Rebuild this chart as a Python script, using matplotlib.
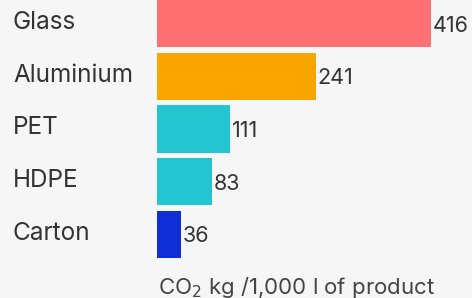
import matplotlib
matplotlib.use("Agg")
import matplotlib.pyplot as plt

categories = ["Glass", "Aluminium", "PET", "HDPE", "Carton"]
values = [416, 241, 111, 83, 36]
colors = ["#ff7072", "#f9a500", "#22c5d0", "#22c5d0", "#0f2ed8"]
xlabel = "CO$_2$ kg /1,000 l of product"

W, H = 472, 298
fig = plt.figure(figsize=(W/100, H/100), dpi=100, facecolor="#f6f6f6")
ax = fig.add_axes([157/W, (H-258)/H, 274/W, 258/H])
ax.set_facecolor("#f6f6f6")
ypos = list(range(len(categories)))
ax.barh(ypos, values, height=0.9, color=colors)
ax.set_xlim(0, max(values))
ax.set_ylim(len(categories)-0.55, -0.45)
for s in ax.spines.values():
    s.set_visible(False)
ax.set_xticks([]); ax.set_yticks([])
fam = ["Inter", "DejaVu Sans"]
for y, v, c in zip(ypos, values, categories):
    ax.annotate(str(v), xy=(v, y), xytext=(2, -2), textcoords="offset pixels",
                va="center", ha="left", fontsize=15.5, color="#333333", family=fam, annotation_clip=False)
    ax.annotate(c, xy=(0, y), xycoords=("figure fraction", "data"), xytext=(13, 1), textcoords="offset pixels",
                va="center", ha="left", fontsize=17.5, color="#333333", family=fam)
fig.text(297/W, 1-287/H, xlabel, ha="center", va="center", fontsize=16, color="#444444", family=fam)
fig.savefig("out.png", dpi=100, facecolor=fig.get_facecolor())
